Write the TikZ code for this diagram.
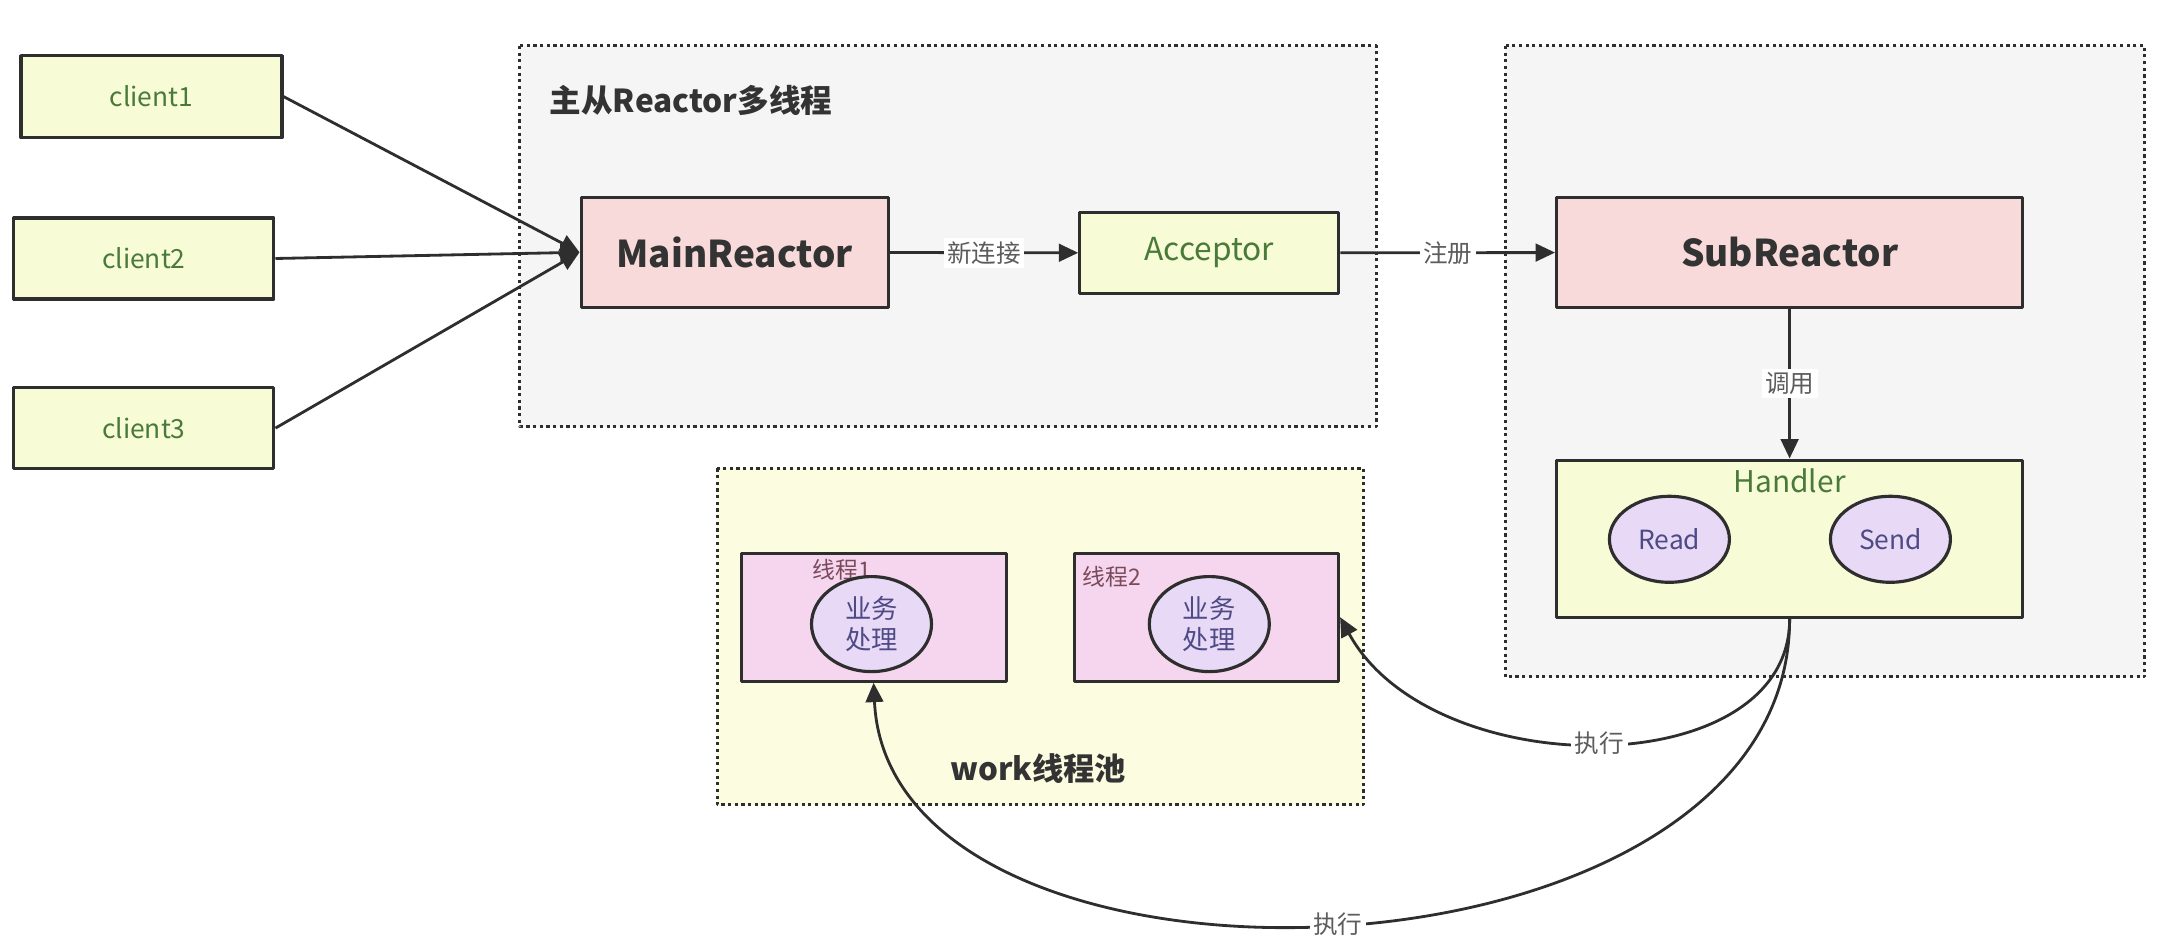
\documentclass[tikz,border=0pt]{standalone}
\usepackage{fontspec}
\setmainfont{Noto Sans CJK SC}
\usetikzlibrary{arrows.meta,shapes.geometric}
\definecolor{edge}{HTML}{2E2E2E}
\definecolor{gry}{HTML}{F5F5F5}
\definecolor{ylw}{HTML}{F7FBD6}
\definecolor{pool}{HTML}{FCFCE0}
\definecolor{pnk}{HTML}{F8DADA}
\definecolor{thr}{HTML}{F6D6EE}
\definecolor{lav}{HTML}{E8DAF6}
\definecolor{grn}{HTML}{4A7A3A}
\definecolor{prp}{HTML}{4E4A86}
\definecolor{mrn}{HTML}{7A4A5A}
\definecolor{dtxt}{HTML}{333333}
\begin{document}
\begin{tikzpicture}[line join=round, >={Triangle[length=5.5pt,width=5pt]}, font=\fontsize{7.5}{9}\selectfont,
    box/.style={draw=edge, line width=0.9pt, inner sep=0pt},
    ybox/.style={box, fill=ylw, text=grn},
    pbox/.style={box, fill=pnk, text=dtxt, font=\bfseries\fontsize{10.5}{12}\selectfont},
    tbox/.style={box, fill=thr},
    oval/.style={ellipse, draw=edge, line width=0.9pt, fill=lav, text=prp, align=center, inner sep=0pt},
    area/.style={draw=edge, densely dotted, line width=0.9pt},
    lbl/.style={fill=white, text=dtxt!80, inner sep=1pt, font=\fontsize{7}{8}\selectfont},
    link/.style={draw=edge, line width=0.8pt, ->}]
    \useasboundingbox (0,0) rectangle (21.8,-9.42);
    \draw[area, fill=gry] (5.199,-0.459) rectangle (13.761,-4.267);
    \draw[area, fill=gry] (15.054,-0.459) rectangle (21.448,-6.769);
    \draw[area, fill=pool] (7.172,-4.684) rectangle (13.636,-8.048);
    \node[anchor=west, inner sep=0pt, text=dtxt, font=\bfseries\fontsize{9}{11}\selectfont] (title) at (5.49,-1.0) {主从Reactor多线程};
    \node[text=dtxt, font=\bfseries\fontsize{8.9}{11}\selectfont] (pooltitle) at (10.383,-7.687) {work线程池};
    \node[ybox, minimum width=2.61cm, minimum height=0.82cm] (c1) at (1.515,-0.966) {client1};
    \node[ybox, minimum width=2.60cm, minimum height=0.81cm] (c2) at (1.439,-2.585) {client2};
    \node[ybox, minimum width=2.60cm, minimum height=0.81cm] (c3) at (1.439,-4.281) {client3};
    \node[pbox, minimum width=3.07cm, minimum height=1.10cm] (main) at (7.346,-2.523) {MainReactor};
    \node[ybox, minimum width=2.59cm, minimum height=0.81cm, font=\fontsize{9}{11}\selectfont] (acc) at (12.093,-2.530) {Acceptor};
    \node[pbox, minimum width=4.66cm, minimum height=1.10cm] (sub) at (17.896,-2.523) {SubReactor};
    \node[box, fill=ylw, minimum width=4.66cm, minimum height=1.57cm] (hdl) at (17.896,-5.386) {};
    \node[text=grn, font=\fontsize{8.5}{10}\selectfont] (hlab) at (17.896,-4.81) {Handler};
    \node[oval, minimum width=1.20cm, minimum height=0.86cm] (read) at (16.694,-5.393) {Read};
    \node[oval, minimum width=1.20cm, minimum height=0.86cm] (send) at (18.904,-5.393) {Send};
    \node[tbox, minimum width=2.65cm, minimum height=1.28cm] (t1) at (8.736,-6.172) {};
    \node[tbox, minimum width=2.64cm, minimum height=1.28cm] (t2) at (12.065,-6.172) {};
    \node[text=mrn, font=\fontsize{6.5}{8}\selectfont] (t1lab) at (8.42,-5.70) {线程1};
    \node[text=mrn, font=\fontsize{6.5}{8}\selectfont] (t2lab) at (11.12,-5.77) {线程2};
    \node[oval, minimum width=1.20cm, minimum height=0.95cm] (job1) at (8.715,-6.241) {业务\\处理};
    \node[oval, minimum width=1.20cm, minimum height=0.95cm] (job2) at (12.093,-6.241) {业务\\处理};
    \draw[link] (c1.east) -- (main.west);
    \draw[link] (c2.east) -- (main.west);
    \draw[link] (c3.east) -- (main.west);
    \draw[link] (main) -- node[lbl]{新连接} (acc);
    \draw[link] (acc) -- node[lbl]{注册} (sub);
    \draw[link] (sub) -- node[lbl]{调用} (hdl);
    \draw[link] (hdl.south) .. controls (17.903,-7.854) and (14.317,-7.854) .. node[lbl]{执行} (t2.east);
    \draw[link] (hdl.south) .. controls (17.903,-10.008) and (8.896,-10.286) .. node[lbl]{执行} (t1.south);
\end{tikzpicture}
\end{document}
